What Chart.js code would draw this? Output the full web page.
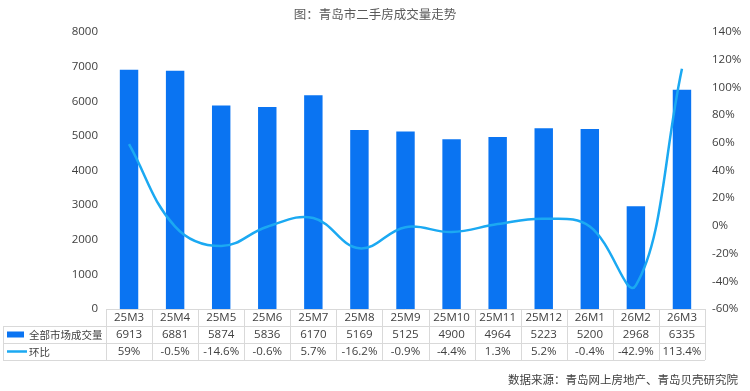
<!DOCTYPE html>
<html>
<head>
<meta charset="utf-8">
<script src="https://cdn.jsdelivr.net/npm/chart.js@4"></script>
<style>
html,body{margin:0;padding:0;background:#fff;}
#wrap{width:750px;height:391px;position:relative;}
</style>
</head>
<body>
<div id="wrap"><canvas id="c" width="750" height="391"></canvas></div>
<script>
const categories = ['25M3','25M4','25M5','25M6','25M7','25M8','25M9','25M10','25M11','25M12','26M1','26M2','26M3'];
const volume = [6913,6881,5874,5836,6170,5169,5125,4900,4964,5223,5200,2968,6335];
const mom = [59,-0.5,-14.6,-0.6,5.7,-16.2,-0.9,-4.4,1.3,5.2,-0.4,-42.9,113.4];
const momLabels = ['59%','-0.5%','-14.6%','-0.6%','5.7%','-16.2%','-0.9%','-4.4%','1.3%','5.2%','-0.4%','-42.9%','113.4%'];
const seriesNames = ['全部市场成交量','环比'];
const leftTicks = [0,1000,2000,3000,4000,5000,6000,7000,8000];
const rightTicks = [-60,-40,-20,0,20,40,60,80,100,120,140];
const titleText = '图：青岛市二手房成交量走势';
const sourceText = '数据来源：青岛网上房地产、青岛贝壳研究院';

const FONT = '"Open Sans","Noto Sans CJK SC",sans-serif';
const CJK = '"Noto Sans CJK SC","Open Sans",sans-serif';
const BAR = '#0A74F2';
const LINE = '#1BA9F2';
const TXT = '#404040';

const tablePlugin = {
  id: 'dataTable',
  afterDraw(chart) {
    const ctx = chart.ctx;
    const ca = chart.chartArea;
    const xs = chart.scales.x;
    const n = categories.length;
    const w = (ca.right - ca.left) / n;
    const rowTops = [ca.bottom, ca.bottom + 17, ca.bottom + 34, ca.bottom + 51];
    const leftX = 3;
    ctx.save();
    ctx.strokeStyle = '#d9d9d9';
    ctx.lineWidth = 1;
    ctx.beginPath();
    ctx.moveTo(ca.left, Math.round(rowTops[0]) + 0.5); ctx.lineTo(ca.right, Math.round(rowTops[0]) + 0.5);
    for (let r = 1; r < 4; r++) {
      ctx.moveTo(leftX, Math.round(rowTops[r]) + 0.5); ctx.lineTo(ca.right, Math.round(rowTops[r]) + 0.5);
    }
    ctx.moveTo(leftX + 0.5, rowTops[1]); ctx.lineTo(leftX + 0.5, rowTops[3]);
    for (let i = 0; i <= n; i++) {
      const x = Math.round(ca.left + i * w) + 0.5;
      ctx.moveTo(x, rowTops[0]); ctx.lineTo(x, rowTops[3]);
    }
    ctx.stroke();

    ctx.font = '11.5px ' + FONT;
    ctx.fillStyle = TXT;
    ctx.textAlign = 'center';
    ctx.textBaseline = 'middle';
    for (let i = 0; i < n; i++) {
      const cx = xs.getPixelForValue(i);
      ctx.fillText(categories[i], cx, (rowTops[0] + rowTops[1]) / 2 + 0.5);
      ctx.fillText(String(volume[i]), cx, (rowTops[1] + rowTops[2]) / 2 + 0.5);
      ctx.fillText(momLabels[i], cx, (rowTops[2] + rowTops[3]) / 2 + 0.5);
    }
    const y1 = (rowTops[1] + rowTops[2]) / 2;
    const y2 = (rowTops[2] + rowTops[3]) / 2;
    ctx.fillStyle = BAR;
    ctx.fillRect(7, y1 - 3, 17, 6);
    ctx.strokeStyle = LINE;
    ctx.lineWidth = 2.5;
    ctx.beginPath(); ctx.moveTo(7, y2); ctx.lineTo(27, y2); ctx.stroke();
    ctx.fillStyle = TXT;
    ctx.textAlign = 'left';
    ctx.font = '10.5px ' + CJK;
    ctx.fillText(seriesNames[0], 29, y1 + 0.5);
    ctx.fillText(seriesNames[1], 29, y2 + 0.5);
    ctx.font = '11.5px ' + CJK;
    ctx.textAlign = 'right';
    ctx.fillText(sourceText, 738, 380);
    ctx.restore();
  }
};

new Chart(document.getElementById('c'), {
  type: 'bar',
  data: {
    labels: categories,
    datasets: [
      {
        type: 'line',
        label: seriesNames[1],
        data: mom,
        yAxisID: 'y1',
        borderColor: LINE,
        backgroundColor: LINE,
        borderWidth: 2.5,
        pointRadius: 0,
        tension: 0.4,
        fill: false,
        order: 0
      },
      {
        type: 'bar',
        label: seriesNames[0],
        data: volume,
        yAxisID: 'y',
        backgroundColor: BAR,
        categoryPercentage: 1,
        barPercentage: 0.4,
        order: 1
      }
    ]
  },
  options: {
    responsive: false,
    animation: false,
    devicePixelRatio: 1,
    layout: { padding: { top: 0, bottom: 82, left: 0, right: 0 } },
    plugins: {
      legend: { display: false },
      tooltip: { enabled: false },
      title: {
        display: true,
        text: titleText,
        color: '#595959',
        font: { family: CJK, size: 12.5, weight: 'normal' },
        padding: { top: 7, bottom: 10 }
      }
    },
    scales: {
      x: {
        display: false,
        offset: true
      },
      y: {
        position: 'left',
        min: 0, max: 8000,
        afterBuildTicks: (s) => { s.ticks = leftTicks.map(v => ({ value: v })); },
        afterFit: (s) => { s.width = 106; },
        grid: { display: false, drawTicks: false },
        border: { display: false },
        ticks: { color: TXT, font: { family: FONT, size: 11.5 }, padding: 8, callback: (v) => String(v) }
      },
      y1: {
        position: 'right',
        min: -60, max: 140,
        afterBuildTicks: (s) => { s.ticks = rightTicks.map(v => ({ value: v })); },
        afterFit: (s) => { s.width = 45; },
        grid: { display: false, drawTicks: false },
        border: { display: false },
        ticks: { color: TXT, font: { family: FONT, size: 11.5 }, padding: 7, callback: (v) => v + '%' }
      }
    }
  },
  plugins: [tablePlugin]
});
</script>
</body>
</html>
